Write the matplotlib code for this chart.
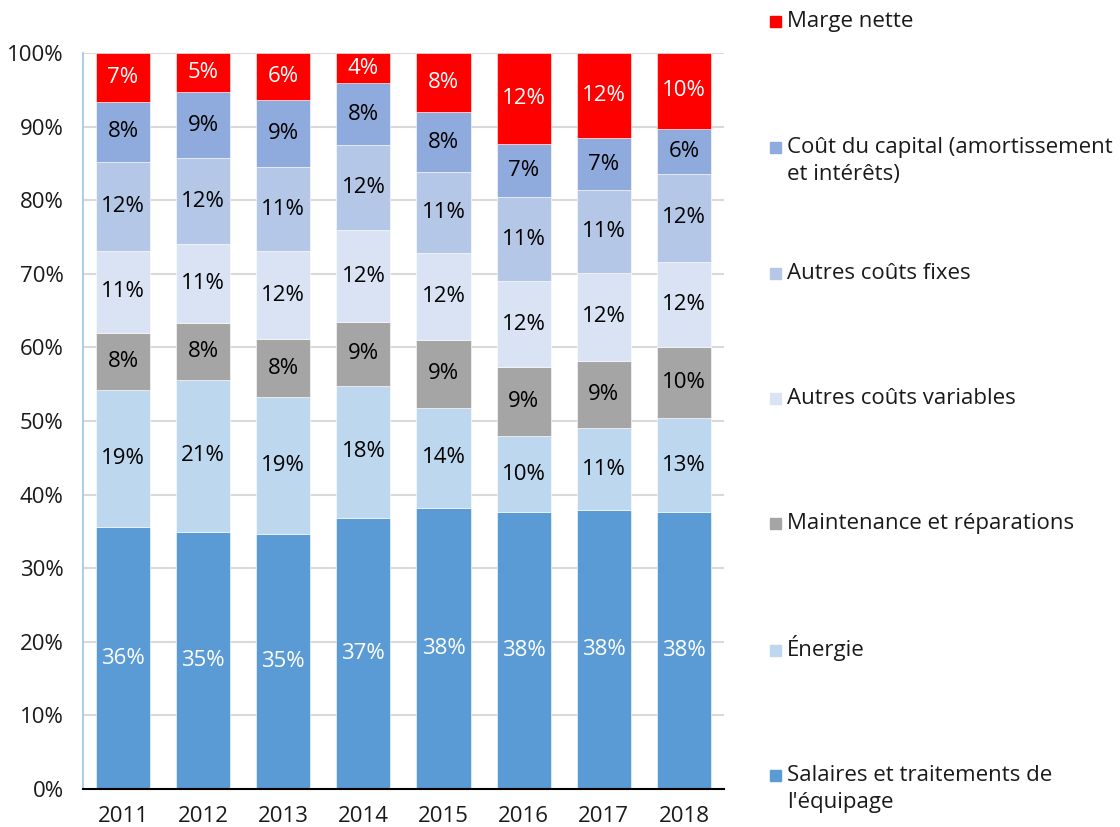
import matplotlib
matplotlib.use("Agg")
import matplotlib.pyplot as plt
from matplotlib.patches import Rectangle
import numpy as np

plt.rcParams['font.family'] = ['Open Sans', 'DejaVu Sans']

years = ['2011', '2012', '2013', '2014', '2015', '2016', '2017', '2018']

salaires = [35.6, 34.9, 34.6, 36.8, 38.2, 37.6, 37.9, 37.6]
energie = [18.6, 20.7, 18.7, 18.0, 13.6, 10.4, 11.1, 12.8]
maintenance = [7.8, 7.7, 7.8, 8.7, 9.2, 9.3, 9.2, 9.6]
autres_variables = [11.1, 10.7, 12.0, 12.4, 11.8, 11.7, 11.9, 11.6]
autres_fixes = [12.1, 11.7, 11.4, 11.6, 11.0, 11.4, 11.3, 12.0]
capital = [8.2, 9.0, 9.1, 8.4, 8.2, 7.3, 7.0, 6.1]
marge = [6.6, 5.3, 6.4, 4.1, 8.0, 12.3, 11.6, 10.3]

series = [
    ("Salaires et traitements de\nl'équipage", salaires, '#5B9BD5', 'white'),
    ("Énergie", energie, '#BDD7EE', 'black'),
    ("Maintenance et réparations", maintenance, '#A5A5A5', 'black'),
    ("Autres coûts variables", autres_variables, '#DAE3F3', 'black'),
    ("Autres coûts fixes", autres_fixes, '#B4C7E7', 'black'),
    ("Coût du capital (amortissement\net intérêts)", capital, '#8FAADC', 'black'),
    ("Marge nette", marge, '#FF0000', 'white'),
]

FS = 16

fig = plt.figure(figsize=(11.2, 8.27), dpi=100)
ax = fig.add_axes([0.0741, 0.0459, 0.5723, 0.89])

x = np.arange(len(years))
bottom = np.zeros(len(years))
for name, vals, color, tcolor in series:
    vals = np.array(vals)
    ax.bar(x, vals, 0.675, bottom=bottom, color=color, edgecolor='white', linewidth=0.4, zorder=2)
    for xi, b, v in zip(x, bottom, vals):
        ax.text(xi, b + v / 2, f"{round(v)}%", ha='center', va='center',
                fontsize=FS, color=tcolor, zorder=3)
    bottom += vals

ax.set_xlim(-0.5, len(years) - 0.5)
ax.set_ylim(0, 100)
ax.set_yticks(np.arange(0, 101, 10))
ax.set_yticklabels([f"{v}%" for v in range(0, 101, 10)])
ax.set_xticks(x)
ax.set_xticklabels(years)
ax.tick_params(axis='both', length=0, labelsize=FS, colors='#1a1a1a')
ax.tick_params(axis='x', pad=12)
ax.tick_params(axis='y', pad=14)
ax.yaxis.grid(True, color='#D9D9D9', linewidth=1.5, zorder=0)
ax.set_axisbelow(True)
for s in ['top', 'right']:
    ax.spines[s].set_visible(False)
ax.spines['left'].set_color('#9DC3E6')
ax.spines['left'].set_linewidth(1.2)
ax.spines['bottom'].set_color('black')
ax.spines['bottom'].set_linewidth(1.5)
ax.spines['bottom'].set_zorder(4)

# legend on the right, top entry = last series; ys = baseline of first line (px)
W, H = 1120, 827
ys = [781, 656, 529, 404, 279, 153, 27]
for (name, vals, color, tcolor), yb in zip(series, ys):
    fig.patches.append(Rectangle((770 / W, 1 - yb / H), 11 / W, 11 / H,
                                 transform=fig.transFigure, color=color, figure=fig))
    for k, line in enumerate(name.split('\n')):
        fig.text(787 / W, 1 - (yb + 27 * k) / H, line, ha='left', va='baseline',
                 fontsize=FS, color='#1a1a1a')

fig.savefig('out.png', dpi=100)
